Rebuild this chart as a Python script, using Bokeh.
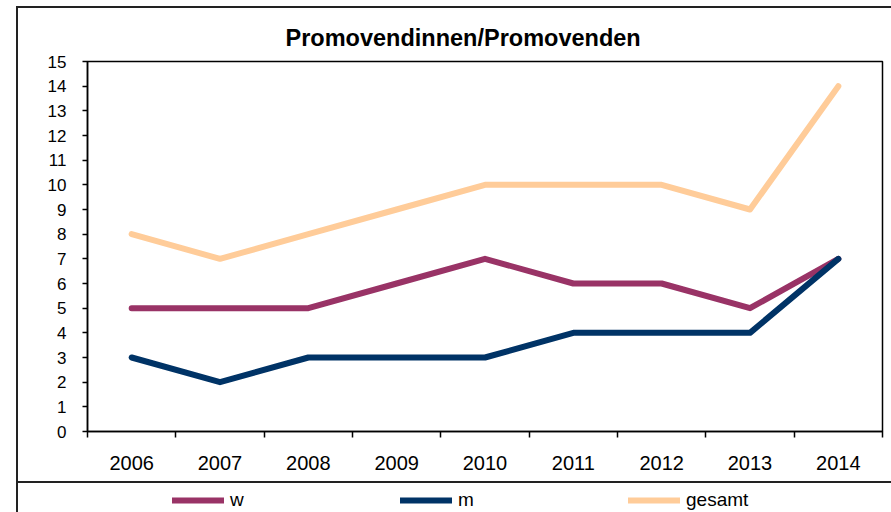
from bokeh.plotting import figure
from bokeh.layouts import column
from bokeh.models import FixedTicker, Legend, LegendItem, Title, Range1d
from bokeh.embed import file_html
from bokeh.resources import INLINE

# ---- data ----
years = ["2006", "2007", "2008", "2009", "2010", "2011", "2012", "2013", "2014"]
w_values = [5, 5, 5, 6, 7, 6, 6, 5, 7]
m_values = [3, 2, 3, 3, 3, 4, 4, 4, 7]
gesamt_values = [8, 7, 8, 9, 10, 10, 10, 9, 14]
series_names = ["w", "m", "gesamt"]
y_ticks = list(range(0, 16))
title_text = "Promovendinnen/Promovenden"

# ---- styles ----
colors = {"w": "#993366", "m": "#003366", "gesamt": "#FFCC99"}
FONT = "Liberation Sans"

x_pos = [i + 0.5 for i in range(len(years))]
series = {"w": w_values, "m": m_values, "gesamt": gesamt_values}

p = figure(width=891, height=482, output_backend="svg", toolbar_location=None,
           x_range=Range1d(0, len(years)), y_range=Range1d(0, 15),
           min_border_left=87, min_border_right=9, min_border_top=61, min_border_bottom=51)

p.title = Title(text=title_text, align="left", offset=198, text_font=FONT,
                text_font_size="23.5px", text_font_style="bold", text_color="black",
                standoff=21)

p.background_fill_color = "white"
p.border_fill_color = None
p.outline_line_color = "black"
p.outline_line_width = 1.5
p.xgrid.visible = False
p.ygrid.visible = False

# y axis
p.yaxis.ticker = FixedTicker(ticks=y_ticks)
p.yaxis.major_label_text_font = FONT
p.yaxis.major_label_text_font_size = "17px"
p.yaxis.major_label_text_color = "black"
p.yaxis.major_tick_out = 5
p.yaxis.major_tick_in = 0
p.yaxis.minor_tick_out = 0
p.yaxis.minor_tick_in = 0
p.yaxis.axis_line_width = 1.5
p.yaxis.major_tick_line_width = 1.5
p.yaxis.major_label_standoff = 16

# x axis: labels at category centres, tick marks at boundaries
p.xaxis.ticker = FixedTicker(ticks=x_pos, minor_ticks=list(range(len(years) + 1)))
p.xaxis.major_label_overrides = {x: y for x, y in zip(x_pos, years)}
p.xaxis.major_label_text_font = FONT
p.xaxis.major_label_text_font_size = "20px"
p.xaxis.major_label_text_color = "black"
p.xaxis.major_tick_out = 0
p.xaxis.major_tick_in = 0
p.xaxis.minor_tick_out = 6
p.xaxis.minor_tick_in = 0
p.xaxis.minor_tick_line_color = "black"
p.xaxis.minor_tick_line_width = 1.5
p.xaxis.axis_line_width = 1.5
p.xaxis.major_label_standoff = 18

for name in ["gesamt", "w", "m"]:
    p.line(x_pos, series[name], line_color=colors[name], line_width=6,
           line_join="round", line_cap="round")

# ---- legend strip (separate small figure below the chart; frames are aligned) ----
pl = figure(width=891, height=30, output_backend="svg", toolbar_location=None,
            x_axis_type=None, y_axis_type=None,
            x_range=Range1d(0, len(years)), y_range=Range1d(0, 1),
            min_border_left=87, min_border_right=9, min_border_top=0, min_border_bottom=0)
pl.outline_line_color = None
pl.background_fill_color = None
pl.border_fill_color = None

# same series drawn into the strip (outside its visible y range) so the legend has real renderers
leg_renderers = [pl.line(x_pos, series[n], line_color=colors[n], line_width=6, line_cap="round")
                 for n in series_names]
legend = Legend(items=[LegendItem(label=n, renderers=[r]) for n, r in zip(series_names, leg_renderers)],
                orientation="horizontal", location=(85, 1),
                glyph_width=52, glyph_height=20, label_height=20,
                label_width=170, spacing=0, label_standoff=6, padding=0, margin=0,
                border_line_alpha=0, background_fill_alpha=0,
                label_text_font=FONT, label_text_font_size="19px", label_text_color="black")
pl.add_layout(legend)

layout = column(p, pl, spacing=0)
# chart border + legend box top line drawn as CSS backgrounds of the layout element
layout.styles = {
    "background-color": "white",
    "background-image": "linear-gradient(#222,#222), linear-gradient(#222,#222), linear-gradient(#222,#222)",
    "background-size": "100% 2px, 2px 100%, 100% 2px",
    "background-position": "16px 6px, 16px 6px, 16px 481px",
    "background-repeat": "no-repeat",
}

open("out.html", "w").write(file_html(layout, INLINE))
